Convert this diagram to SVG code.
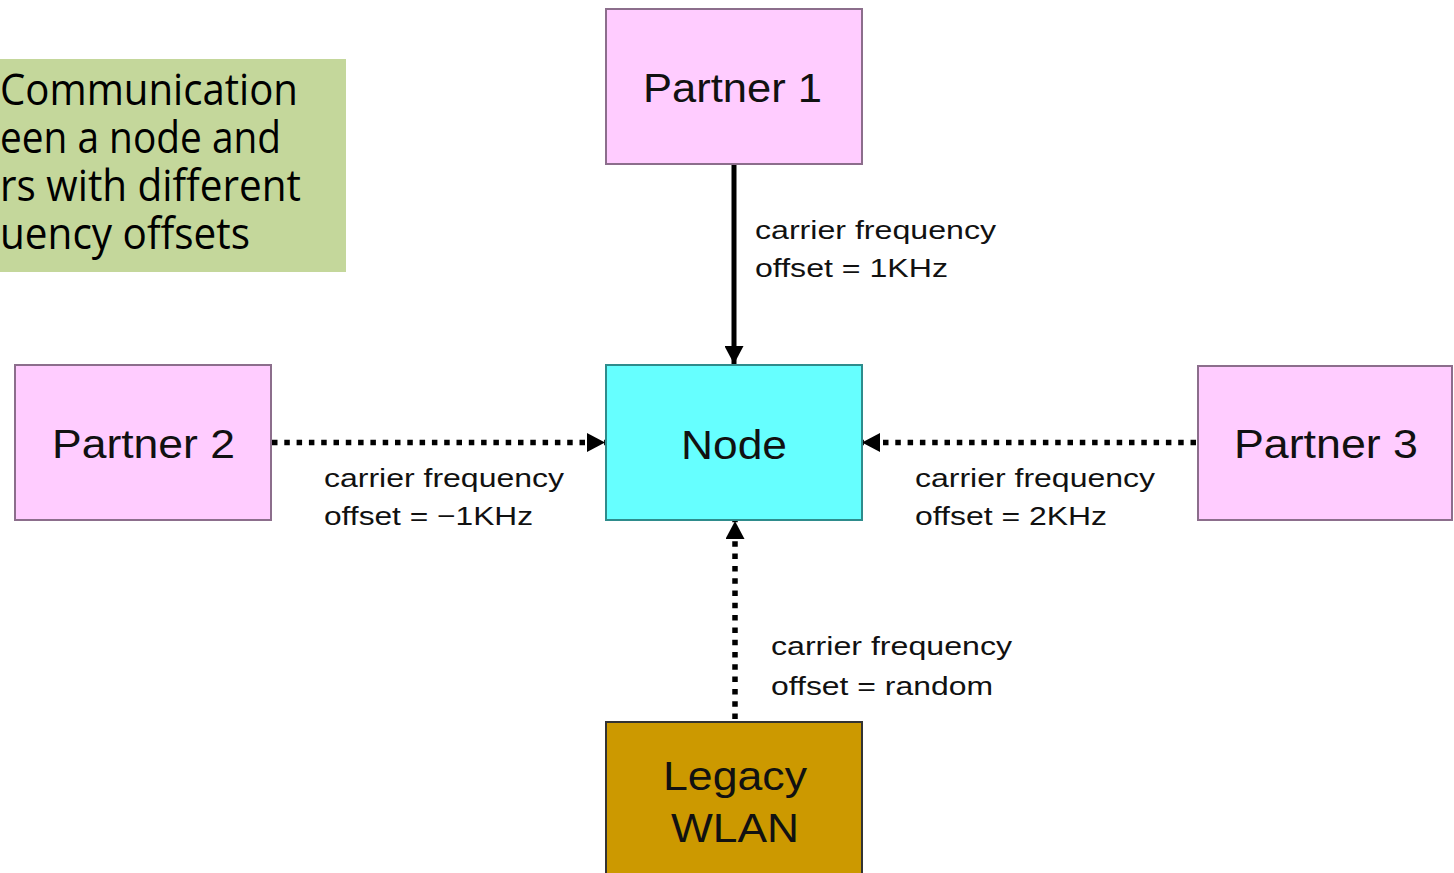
<svg xmlns="http://www.w3.org/2000/svg" width="1454" height="873" viewBox="0 0 1454 873">
  <style>
    .box { stroke-width: 2; }
    .pink { fill: #FFCCFF; stroke: #8c6e8c; }
    .cyan { fill: #66FFFF; stroke: #2e8c8c; }
    .gold { fill: #CC9900; stroke: #333333; }
    .big { font-family: "Liberation Sans", Arial, sans-serif; font-size: 40px; fill: #111; }
    .lbl { font-family: "Liberation Sans", Arial, sans-serif; font-size: 26px; fill: #111; }
    .note { font-family: "Open Sans", "Noto Sans", sans-serif; font-size: 43px; fill: #000; }
    .solid { stroke: #000; stroke-width: 5; fill: none; }
    .dot { stroke: #000; stroke-width: 5.5; fill: none; stroke-dasharray: 5.5 6.8; }
  </style>
  <defs>
    <marker id="arr" markerUnits="userSpaceOnUse" markerWidth="19" markerHeight="19" refX="18" refY="9.5" orient="auto" viewBox="0 0 19 19">
      <path d="M0,0 L18,9.5 L0,19 z" fill="#000"/>
    </marker>
  </defs>
  <rect width="1454" height="873" fill="#fff"/>

  <g id="note">
    <rect x="0" y="59" width="346" height="213" fill="#C4D79B"/>
    <text class="note" x="0" y="105" textLength="298" lengthAdjust="spacingAndGlyphs">Communication</text>
    <text class="note" x="0" y="153" textLength="281" lengthAdjust="spacingAndGlyphs">een a node and</text>
    <text class="note" x="0" y="201" textLength="301" lengthAdjust="spacingAndGlyphs">rs with different</text>
    <text class="note" x="0" y="249" textLength="250" lengthAdjust="spacingAndGlyphs">uency offsets</text>
  </g>

  <g id="connectors">
    <line class="solid" x1="734" y1="165" x2="734" y2="364" marker-end="url(#arr)"/>
    <line class="dot" x1="272" y1="442.5" x2="605" y2="442.5" marker-end="url(#arr)"/>
    <line class="dot" x1="1196" y1="442.5" x2="862" y2="442.5" marker-end="url(#arr)"/>
    <line class="dot" x1="735" y1="719" x2="735" y2="521" marker-end="url(#arr)"/>
  </g>

  <g id="labels">
    <text class="lbl" x="755" y="239" textLength="241" lengthAdjust="spacingAndGlyphs">carrier frequency</text>
    <text class="lbl" x="755" y="277" textLength="193" lengthAdjust="spacingAndGlyphs">offset = 1KHz</text>
    <text class="lbl" x="324" y="487" textLength="240" lengthAdjust="spacingAndGlyphs">carrier frequency</text>
    <text class="lbl" x="324" y="525" textLength="209" lengthAdjust="spacingAndGlyphs">offset = −1KHz</text>
    <text class="lbl" x="915" y="487" textLength="240" lengthAdjust="spacingAndGlyphs">carrier frequency</text>
    <text class="lbl" x="915" y="525" textLength="192" lengthAdjust="spacingAndGlyphs">offset = 2KHz</text>
    <text class="lbl" x="771" y="655" textLength="241" lengthAdjust="spacingAndGlyphs">carrier frequency</text>
    <text class="lbl" x="771" y="695" textLength="222" lengthAdjust="spacingAndGlyphs">offset = random</text>
  </g>

  <g id="partner1">
    <rect class="box pink" x="606" y="9" width="256" height="155"/>
    <text class="big" x="643" y="102" textLength="179" lengthAdjust="spacingAndGlyphs">Partner 1</text>
  </g>
  <g id="node">
    <rect class="box cyan" x="606" y="365" width="256" height="155"/>
    <text class="big" x="681" y="459" textLength="106" lengthAdjust="spacingAndGlyphs">Node</text>
  </g>
  <g id="partner2">
    <rect class="box pink" x="15" y="365" width="256" height="155"/>
    <text class="big" x="52" y="458" textLength="183" lengthAdjust="spacingAndGlyphs">Partner 2</text>
  </g>
  <g id="partner3">
    <rect class="box pink" x="1198" y="366" width="254" height="154"/>
    <text class="big" x="1234" y="458" textLength="184" lengthAdjust="spacingAndGlyphs">Partner 3</text>
  </g>
  <g id="legacy">
    <rect class="box gold" x="606" y="722" width="256" height="160"/>
    <text class="big" x="663" y="790" textLength="144" lengthAdjust="spacingAndGlyphs">Legacy</text>
    <text class="big" x="671" y="842" textLength="128" lengthAdjust="spacingAndGlyphs">WLAN</text>
  </g>
</svg>
